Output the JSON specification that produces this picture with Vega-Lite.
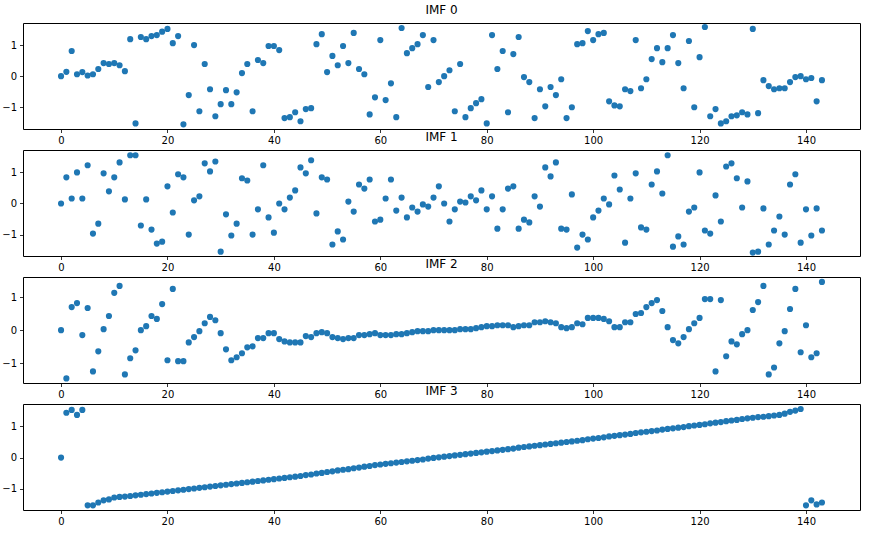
{
"$schema": "https://vega.github.io/schema/vega-lite/v6.json",
"padding": {"left": 1, "top": 3, "right": 10, "bottom": 5},
"bounds": "flush",
"spacing": 21,
"config": {
  "view": {"stroke": "#000000", "strokeWidth": 1},
  "axis": {"domain": false, "grid": false, "tickColor": "#000000", "tickSize": 3.5, "tickWidth": 0.8, "labelFont": "DejaVu Sans", "labelFontSize": 10, "labelColor": "#000000", "labelPadding": 3, "title": null},
  "title": {"font": "DejaVu Sans", "fontSize": 12, "fontWeight": "normal", "color": "#000000", "offset": 6, "anchor": "middle"}
},
"datasets": {
"imf0": [
{"x":0,"y":0},{"x":1,"y":0.14},{"x":2,"y":0.81},{"x":3,"y":0.06},{"x":4,"y":0.13},{"x":5,"y":0.02},{"x":6,"y":0.06},{"x":7,"y":0.23},{"x":8,"y":0.42},{"x":9,"y":0.39},
{"x":10,"y":0.42},{"x":11,"y":0.35},{"x":12,"y":0.16},{"x":13,"y":1.19},{"x":14,"y":-1.52},{"x":15,"y":1.26},{"x":16,"y":1.19},{"x":17,"y":1.29},{"x":18,"y":1.32},{"x":19,"y":1.43},
{"x":20,"y":1.52},{"x":21,"y":1.06},{"x":22,"y":1.29},{"x":23,"y":-1.55},{"x":24,"y":-0.61},{"x":25,"y":1.0},{"x":26,"y":-1.13},{"x":27,"y":0.39},{"x":28,"y":-0.42},{"x":29,"y":-1.29},
{"x":30,"y":-0.9},{"x":31,"y":-0.45},{"x":32,"y":-0.9},{"x":33,"y":-0.52},{"x":34,"y":0.1},{"x":35,"y":0.39},{"x":36,"y":-1.13},{"x":37,"y":0.52},{"x":38,"y":0.42},{"x":39,"y":0.97},
{"x":40,"y":0.97},{"x":41,"y":0.84},{"x":42,"y":-1.35},{"x":43,"y":-1.32},{"x":44,"y":-1.16},{"x":45,"y":-1.45},{"x":46,"y":-1.06},{"x":47,"y":-1.03},{"x":48,"y":1.03},{"x":49,"y":1.35},
{"x":50,"y":0.13},{"x":51,"y":0.65},{"x":52,"y":0.35},{"x":53,"y":0.97},{"x":54,"y":0.42},{"x":55,"y":1.39},{"x":56,"y":0.23},{"x":57,"y":0.06},{"x":58,"y":-1.23},{"x":59,"y":-0.68},
{"x":60,"y":1.16},{"x":61,"y":-0.77},{"x":62,"y":-0.23},{"x":63,"y":-1.32},{"x":64,"y":1.55},{"x":65,"y":0.74},{"x":66,"y":0.9},{"x":67,"y":1.03},{"x":68,"y":1.32},{"x":69,"y":-0.35},
{"x":70,"y":1.16},{"x":71,"y":-0.19},{"x":72,"y":0.0},{"x":73,"y":0.19},{"x":74,"y":-1.13},{"x":75,"y":0.39},{"x":76,"y":-1.32},{"x":77,"y":-1.03},{"x":78,"y":-0.87},{"x":79,"y":-0.74},
{"x":80,"y":-1.52},{"x":81,"y":1.32},{"x":82,"y":0.23},{"x":83,"y":0.81},{"x":84,"y":-1.16},{"x":85,"y":0.71},{"x":86,"y":1.26},{"x":87,"y":-0.03},{"x":88,"y":-0.19},{"x":89,"y":-1.35},
{"x":90,"y":-0.42},{"x":91,"y":-0.97},{"x":92,"y":-0.35},{"x":93,"y":-0.61},{"x":94,"y":-0.1},{"x":95,"y":-1.35},{"x":96,"y":-1.0},{"x":97,"y":1.03},{"x":98,"y":1.06},{"x":99,"y":1.45},
{"x":100,"y":1.16},{"x":101,"y":1.35},{"x":102,"y":1.39},{"x":103,"y":-0.81},{"x":104,"y":-0.94},{"x":105,"y":-0.97},{"x":106,"y":-0.42},{"x":107,"y":-0.48},{"x":108,"y":1.16},{"x":109,"y":-0.39},
{"x":110,"y":-0.1},{"x":111,"y":0.55},{"x":112,"y":0.9},{"x":113,"y":0.45},{"x":114,"y":0.9},{"x":115,"y":1.32},{"x":116,"y":0.42},{"x":117,"y":-0.39},{"x":118,"y":1.13},{"x":119,"y":-1.0},
{"x":120,"y":0.61},{"x":121,"y":1.58},{"x":122,"y":-1.29},{"x":123,"y":-1.06},{"x":124,"y":-1.52},{"x":125,"y":-1.45},{"x":126,"y":-1.29},{"x":127,"y":-1.26},{"x":128,"y":-1.16},{"x":129,"y":-1.23},
{"x":130,"y":1.52},{"x":131,"y":-1.19},{"x":132,"y":-0.13},{"x":133,"y":-0.32},{"x":134,"y":-0.42},{"x":135,"y":-0.39},{"x":136,"y":-0.39},{"x":137,"y":-0.19},{"x":138,"y":-0.03},{"x":139,"y":0.0},
{"x":140,"y":-0.1},{"x":141,"y":-0.06},{"x":142,"y":-0.81},{"x":143,"y":-0.13}
],
"imf1": [
{"x":0,"y":0},{"x":1,"y":0.84},{"x":2,"y":0.16},{"x":3,"y":1.0},{"x":4,"y":0.16},{"x":5,"y":1.23},{"x":6,"y":-0.97},{"x":7,"y":-0.65},{"x":8,"y":0.97},{"x":9,"y":0.39},
{"x":10,"y":0.84},{"x":11,"y":1.32},{"x":12,"y":0.13},{"x":13,"y":1.55},{"x":14,"y":1.55},{"x":15,"y":-0.71},{"x":16,"y":0.13},{"x":17,"y":-0.84},{"x":18,"y":-1.29},{"x":19,"y":-1.23},
{"x":20,"y":0.55},{"x":21,"y":-0.29},{"x":22,"y":0.94},{"x":23,"y":0.84},{"x":24,"y":-1.0},{"x":25,"y":0.1},{"x":26,"y":0.23},{"x":27,"y":1.29},{"x":28,"y":1.03},{"x":29,"y":1.35},
{"x":30,"y":-1.55},{"x":31,"y":-0.35},{"x":32,"y":-1.03},{"x":33,"y":-0.65},{"x":34,"y":0.81},{"x":35,"y":0.74},{"x":36,"y":-1.0},{"x":37,"y":-0.19},{"x":38,"y":1.23},{"x":39,"y":-0.45},
{"x":40,"y":-0.94},{"x":41,"y":0.0},{"x":42,"y":-0.19},{"x":43,"y":0.19},{"x":44,"y":0.42},{"x":45,"y":1.16},{"x":46,"y":0.97},{"x":47,"y":1.39},{"x":48,"y":-0.32},{"x":49,"y":0.84},
{"x":50,"y":0.77},{"x":51,"y":-1.32},{"x":52,"y":-0.9},{"x":53,"y":-1.16},{"x":54,"y":0.06},{"x":55,"y":-0.26},{"x":56,"y":0.61},{"x":57,"y":0.48},{"x":58,"y":0.77},{"x":59,"y":-0.58},
{"x":60,"y":-0.52},{"x":61,"y":0.16},{"x":62,"y":0.77},{"x":63,"y":-0.23},{"x":64,"y":0.19},{"x":65,"y":-0.45},{"x":66,"y":-0.13},{"x":67,"y":-0.26},{"x":68,"y":-0.03},{"x":69,"y":-0.1},
{"x":70,"y":0.19},{"x":71,"y":0.55},{"x":72,"y":0.0},{"x":73,"y":-0.58},{"x":74,"y":-0.19},{"x":75,"y":0.06},{"x":76,"y":0.03},{"x":77,"y":0.23},{"x":78,"y":0.1},{"x":79,"y":0.42},
{"x":80,"y":-0.19},{"x":81,"y":0.23},{"x":82,"y":-0.81},{"x":83,"y":-0.19},{"x":84,"y":0.48},{"x":85,"y":0.55},{"x":86,"y":-0.81},{"x":87,"y":-0.52},{"x":88,"y":-0.61},{"x":89,"y":0.23},
{"x":90,"y":-0.1},{"x":91,"y":1.16},{"x":92,"y":0.87},{"x":93,"y":1.32},{"x":94,"y":-0.81},{"x":95,"y":-0.84},{"x":96,"y":0.29},{"x":97,"y":-1.42},{"x":98,"y":-1.0},{"x":99,"y":-1.16},
{"x":100,"y":-0.45},{"x":101,"y":-0.23},{"x":102,"y":0.16},{"x":103,"y":-0.03},{"x":104,"y":0.9},{"x":105,"y":0.45},{"x":106,"y":-1.26},{"x":107,"y":0.16},{"x":108,"y":0.97},{"x":109,"y":-0.77},
{"x":110,"y":-0.84},{"x":111,"y":0.61},{"x":112,"y":1.03},{"x":113,"y":0.32},{"x":114,"y":1.55},{"x":115,"y":-1.39},{"x":116,"y":-1.06},{"x":117,"y":-1.32},{"x":118,"y":-0.26},{"x":119,"y":-0.13},
{"x":120,"y":1.0},{"x":121,"y":-0.87},{"x":122,"y":-0.97},{"x":123,"y":0.26},{"x":124,"y":-0.58},{"x":125,"y":1.19},{"x":126,"y":1.29},{"x":127,"y":0.81},{"x":128,"y":-0.13},{"x":129,"y":0.71},
{"x":130,"y":-1.58},{"x":131,"y":-1.55},{"x":132,"y":-0.16},{"x":133,"y":-1.32},{"x":134,"y":-0.87},{"x":135,"y":-0.42},{"x":136,"y":-1.0},{"x":137,"y":0.61},{"x":138,"y":0.94},{"x":139,"y":-1.26},
{"x":140,"y":-0.19},{"x":141,"y":-1.03},{"x":142,"y":-0.16},{"x":143,"y":-0.87}
],
"imf2": [
{"x":0,"y":0},{"x":1,"y":-1.46},{"x":2,"y":0.7},{"x":3,"y":0.82},{"x":4,"y":-0.15},{"x":5,"y":0.67},{"x":6,"y":-1.25},{"x":7,"y":-0.64},{"x":8,"y":0.03},{"x":9,"y":0.43},
{"x":10,"y":1.13},{"x":11,"y":1.34},{"x":12,"y":-1.34},{"x":13,"y":-0.85},{"x":14,"y":-0.61},{"x":15,"y":0.0},{"x":16,"y":0.12},{"x":17,"y":0.43},{"x":18,"y":0.34},{"x":19,"y":0.79},
{"x":20,"y":-0.91},{"x":21,"y":1.25},{"x":22,"y":-0.94},{"x":23,"y":-0.94},{"x":24,"y":-0.37},{"x":25,"y":-0.21},{"x":26,"y":-0.03},{"x":27,"y":0.21},{"x":28,"y":0.4},{"x":29,"y":0.3},
{"x":30,"y":-0.09},{"x":31,"y":-0.58},{"x":32,"y":-0.91},{"x":33,"y":-0.82},{"x":34,"y":-0.7},{"x":35,"y":-0.52},{"x":36,"y":-0.49},{"x":37,"y":-0.24},{"x":38,"y":-0.24},{"x":39,"y":-0.09},
{"x":40,"y":-0.09},{"x":41,"y":-0.27},{"x":42,"y":-0.34},{"x":43,"y":-0.37},{"x":44,"y":-0.37},{"x":45,"y":-0.37},{"x":46,"y":-0.18},{"x":47,"y":-0.21},{"x":48,"y":-0.09},{"x":49,"y":-0.06},
{"x":50,"y":-0.09},{"x":51,"y":-0.21},{"x":52,"y":-0.24},{"x":53,"y":-0.27},{"x":54,"y":-0.24},{"x":55,"y":-0.24},{"x":56,"y":-0.15},{"x":57,"y":-0.15},{"x":58,"y":-0.12},{"x":59,"y":-0.09},
{"x":60,"y":-0.15},{"x":61,"y":-0.15},{"x":62,"y":-0.15},{"x":63,"y":-0.12},{"x":64,"y":-0.12},{"x":65,"y":-0.09},{"x":66,"y":-0.06},{"x":67,"y":-0.03},{"x":68,"y":-0.03},{"x":69,"y":-0.03},
{"x":70,"y":0.0},{"x":71,"y":0.0},{"x":72,"y":0.0},{"x":73,"y":0.0},{"x":74,"y":0.0},{"x":75,"y":0.03},{"x":76,"y":0.03},{"x":77,"y":0.03},{"x":78,"y":0.06},{"x":79,"y":0.09},
{"x":80,"y":0.12},{"x":81,"y":0.12},{"x":82,"y":0.15},{"x":83,"y":0.15},{"x":84,"y":0.15},{"x":85,"y":0.09},{"x":86,"y":0.12},{"x":87,"y":0.15},{"x":88,"y":0.15},{"x":89,"y":0.24},
{"x":90,"y":0.24},{"x":91,"y":0.27},{"x":92,"y":0.24},{"x":93,"y":0.21},{"x":94,"y":0.09},{"x":95,"y":0.06},{"x":96,"y":0.09},{"x":97,"y":0.21},{"x":98,"y":0.18},{"x":99,"y":0.37},
{"x":100,"y":0.37},{"x":101,"y":0.37},{"x":102,"y":0.34},{"x":103,"y":0.27},{"x":104,"y":0.09},{"x":105,"y":0.09},{"x":106,"y":0.24},{"x":107,"y":0.24},{"x":108,"y":0.49},{"x":109,"y":0.52},
{"x":110,"y":0.7},{"x":111,"y":0.82},{"x":112,"y":0.91},{"x":113,"y":0.58},{"x":114,"y":0.09},{"x":115,"y":-0.3},{"x":116,"y":-0.4},{"x":117,"y":-0.21},{"x":118,"y":0.03},{"x":119,"y":0.21},
{"x":120,"y":0.37},{"x":121,"y":0.94},{"x":122,"y":0.94},{"x":123,"y":-1.25},{"x":124,"y":0.91},{"x":125,"y":-0.79},{"x":126,"y":-0.34},{"x":127,"y":-0.43},{"x":128,"y":-0.12},{"x":129,"y":0.0},
{"x":130,"y":0.61},{"x":131,"y":0.85},{"x":132,"y":1.34},{"x":133,"y":-1.34},{"x":134,"y":-1.13},{"x":135,"y":-0.4},{"x":136,"y":-0.03},{"x":137,"y":0.64},{"x":138,"y":1.25},{"x":139,"y":-0.67},
{"x":140,"y":0.15},{"x":141,"y":-0.82},{"x":142,"y":-0.7},{"x":143,"y":1.46}
],
"imf3": [
{"x":0,"y":0},{"x":1,"y":1.44},{"x":2,"y":1.53},{"x":3,"y":1.37},{"x":4,"y":1.53},{"x":5,"y":-1.53},{"x":6,"y":-1.53},{"x":7,"y":-1.44},{"x":8,"y":-1.37},{"x":9,"y":-1.34},
{"x":10,"y":-1.28},{"x":11,"y":-1.26},{"x":12,"y":-1.25},{"x":13,"y":-1.23},{"x":14,"y":-1.21},{"x":15,"y":-1.19},{"x":16,"y":-1.17},{"x":17,"y":-1.15},{"x":18,"y":-1.13},{"x":19,"y":-1.11},
{"x":20,"y":-1.09},{"x":21,"y":-1.07},{"x":22,"y":-1.05},{"x":23,"y":-1.03},{"x":24,"y":-1.01},{"x":25,"y":-0.99},{"x":26,"y":-0.97},{"x":27,"y":-0.95},{"x":28,"y":-0.93},{"x":29,"y":-0.91},
{"x":30,"y":-0.89},{"x":31,"y":-0.87},{"x":32,"y":-0.85},{"x":33,"y":-0.83},{"x":34,"y":-0.81},{"x":35,"y":-0.79},{"x":36,"y":-0.77},{"x":37,"y":-0.75},{"x":38,"y":-0.73},{"x":39,"y":-0.71},
{"x":40,"y":-0.69},{"x":41,"y":-0.67},{"x":42,"y":-0.65},{"x":43,"y":-0.63},{"x":44,"y":-0.61},{"x":45,"y":-0.59},{"x":46,"y":-0.56},{"x":47,"y":-0.54},{"x":48,"y":-0.51},{"x":49,"y":-0.49},
{"x":50,"y":-0.46},{"x":51,"y":-0.44},{"x":52,"y":-0.41},{"x":53,"y":-0.39},{"x":54,"y":-0.37},{"x":55,"y":-0.34},{"x":56,"y":-0.32},{"x":57,"y":-0.29},{"x":58,"y":-0.27},{"x":59,"y":-0.24},
{"x":60,"y":-0.22},{"x":61,"y":-0.2},{"x":62,"y":-0.18},{"x":63,"y":-0.16},{"x":64,"y":-0.14},{"x":65,"y":-0.12},{"x":66,"y":-0.1},{"x":67,"y":-0.08},{"x":68,"y":-0.06},{"x":69,"y":-0.03},
{"x":70,"y":-0.01},{"x":71,"y":0.01},{"x":72,"y":0.03},{"x":73,"y":0.05},{"x":74,"y":0.07},{"x":75,"y":0.09},{"x":76,"y":0.11},{"x":77,"y":0.13},{"x":78,"y":0.15},{"x":79,"y":0.17},
{"x":80,"y":0.19},{"x":81,"y":0.21},{"x":82,"y":0.23},{"x":83,"y":0.25},{"x":84,"y":0.27},{"x":85,"y":0.29},{"x":86,"y":0.32},{"x":87,"y":0.34},{"x":88,"y":0.36},{"x":89,"y":0.38},
{"x":90,"y":0.4},{"x":91,"y":0.42},{"x":92,"y":0.44},{"x":93,"y":0.46},{"x":94,"y":0.48},{"x":95,"y":0.5},{"x":96,"y":0.52},{"x":97,"y":0.54},{"x":98,"y":0.56},{"x":99,"y":0.59},
{"x":100,"y":0.61},{"x":101,"y":0.63},{"x":102,"y":0.65},{"x":103,"y":0.68},{"x":104,"y":0.7},{"x":105,"y":0.72},{"x":106,"y":0.74},{"x":107,"y":0.76},{"x":108,"y":0.79},{"x":109,"y":0.81},
{"x":110,"y":0.83},{"x":111,"y":0.85},{"x":112,"y":0.87},{"x":113,"y":0.9},{"x":114,"y":0.92},{"x":115,"y":0.94},{"x":116,"y":0.96},{"x":117,"y":0.98},{"x":118,"y":1.01},{"x":119,"y":1.03},
{"x":120,"y":1.05},{"x":121,"y":1.07},{"x":122,"y":1.1},{"x":123,"y":1.12},{"x":124,"y":1.14},{"x":125,"y":1.17},{"x":126,"y":1.19},{"x":127,"y":1.21},{"x":128,"y":1.24},{"x":129,"y":1.26},
{"x":130,"y":1.28},{"x":131,"y":1.3},{"x":132,"y":1.31},{"x":133,"y":1.33},{"x":134,"y":1.35},{"x":135,"y":1.37},{"x":136,"y":1.41},{"x":137,"y":1.47},{"x":138,"y":1.51},{"x":139,"y":1.56},
{"x":140,"y":-1.53},{"x":141,"y":-1.37},{"x":142,"y":-1.5},{"x":143,"y":-1.44}
]
},
"vconcat": [
{"title": "IMF 0", "width": 837, "height": 106, "data": {"name": "imf0"},
 "mark": {"type": "circle", "size": 38, "color": "#1f77b4", "opacity": 1, "clip": true},
 "encoding": {
  "x": {"field": "x", "type": "quantitative", "scale": {"domain": [-7.15, 150.15], "nice": false, "zero": false}, "axis": {"values": [0,20,40,60,80,100,120,140]}},
  "y": {"field": "y", "type": "quantitative", "scale": {"domain": [-1.7, 1.71], "nice": false, "zero": false}, "axis": {"values": [-1,0,1]}}}},
{"title": "IMF 1", "width": 837, "height": 106, "data": {"name": "imf1"},
 "mark": {"type": "circle", "size": 38, "color": "#1f77b4", "opacity": 1, "clip": true},
 "encoding": {
  "x": {"field": "x", "type": "quantitative", "scale": {"domain": [-7.15, 150.15], "nice": false, "zero": false}, "axis": {"values": [0,20,40,60,80,100,120,140]}},
  "y": {"field": "y", "type": "quantitative", "scale": {"domain": [-1.69, 1.72], "nice": false, "zero": false}, "axis": {"values": [-1,0,1]}}}},
{"title": "IMF 2", "width": 837, "height": 106, "data": {"name": "imf2"},
 "mark": {"type": "circle", "size": 38, "color": "#1f77b4", "opacity": 1, "clip": true},
 "encoding": {
  "x": {"field": "x", "type": "quantitative", "scale": {"domain": [-7.15, 150.15], "nice": false, "zero": false}, "axis": {"values": [0,20,40,60,80,100,120,140]}},
  "y": {"field": "y", "type": "quantitative", "scale": {"domain": [-1.6, 1.61], "nice": false, "zero": false}, "axis": {"values": [-1,0,1]}}}},
{"title": "IMF 3", "width": 837, "height": 106, "data": {"name": "imf3"},
 "mark": {"type": "circle", "size": 38, "color": "#1f77b4", "opacity": 1, "clip": true},
 "encoding": {
  "x": {"field": "x", "type": "quantitative", "scale": {"domain": [-7.15, 150.15], "nice": false, "zero": false}, "axis": {"values": [0,20,40,60,80,100,120,140]}},
  "y": {"field": "y", "type": "quantitative", "scale": {"domain": [-1.68, 1.72], "nice": false, "zero": false}, "axis": {"values": [-1,0,1]}}}}
]
}
